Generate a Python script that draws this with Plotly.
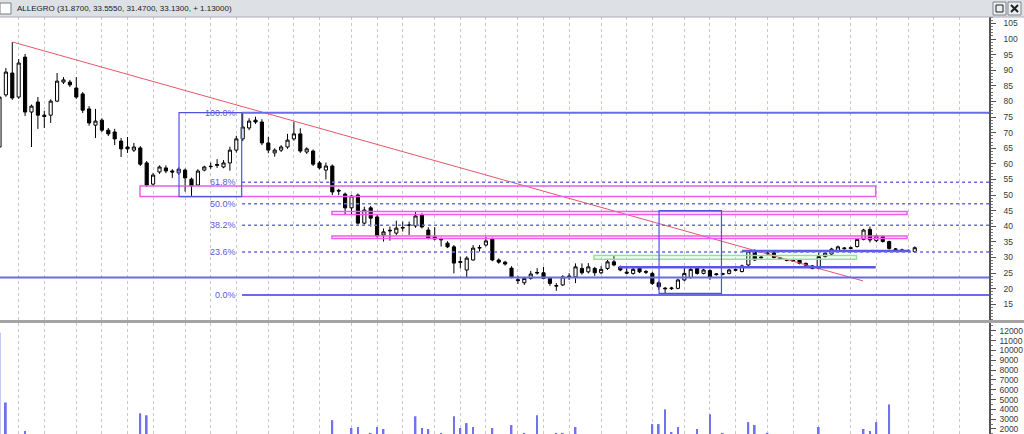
import plotly.graph_objects as go

# daily candles, numbered from the left edge of the window
opens = [65.4, 82.1, 89.1, 81.4, 94.2, 76.6, 79.8, 75.6, 75.6, 80.1, 86.2, 86.2,
         84.3, 82.4, 77.6, 72.4, 74.0, 70.8, 70.2, 67.3, 65.4, 64.4, 65.1, 60.3,
         53.5, 57.4, 58.7, 57.7, 57.1, 58.0, 55.1, 53.2, 58.0, 59.1, 59.5, 59.0,
         60.3, 64.4, 68.0, 71.5, 74.0, 73.4, 66.7, 63.5, 64.4, 65.4, 68.0, 69.6,
         63.8, 64.1, 60.3, 58.0, 59.3, 51.5, 50.3, 45.9, 50.0, 41.0, 45.9, 43.0,
         37.2, 38.5, 37.8, 39.4, 40.3, 40.1, 43.6, 38.8, 36.6, 35.9, 34.6, 33.4,
         28.4, 26.0, 29.2, 33.0, 34.0, 35.9, 29.2, 28.5, 26.6, 22.9, 21.9, 23.3,
         25.0, 25.1, 23.3, 20.8, 21.2, 23.8, 23.8, 26.5, 25.4, 26.5, 25.1, 26.5,
         28.6, 27.0, 25.3, 24.9, 26.5, 25.5, 24.9, 21.9, 20.2, 20.0, 20.1, 22.8,
         23.6, 26.5, 24.9, 25.8, 24.5, 24.6, 24.9, 25.9, 25.5, 27.6, 31.9, 29.9,
         31.2, 31.5, 29.8, 29.3, 29.1, 29.2, 28.1, 27.3, 26.5, 30.3, 31.1, 32.2,
         32.8, 32.9, 33.5, 35.8, 39.0, 35.4, 36.7, 35.1, 32.5, 32.4, 32.2, 31.87]
highs = [82.1, 90.7, 99.0, 93.6, 95.2, 79.0, 81.4, 77.0, 80.7, 89.1, 87.8, 86.9,
         87.8, 83.0, 78.5, 77.6, 74.6, 71.5, 71.2, 68.3, 68.6, 66.7, 65.7, 60.9,
         57.1, 59.5, 59.5, 58.3, 58.9, 58.5, 55.6, 58.3, 59.4, 60.4, 61.5, 61.2,
         65.5, 69.0, 76.4, 74.6, 75.1, 74.3, 68.7, 65.0, 66.0, 69.6, 73.5, 71.4,
         65.3, 64.6, 60.9, 60.4, 59.8, 52.0, 50.8, 50.1, 50.5, 46.3, 46.5, 43.6,
         39.3, 39.9, 41.8, 41.5, 41.5, 44.7, 44.2, 39.7, 39.7, 36.4, 35.2, 34.0,
         30.3, 30.4, 34.0, 34.0, 36.7, 36.4, 29.7, 28.9, 27.2, 24.1, 23.8, 25.7,
         26.6, 27.0, 23.8, 21.8, 24.3, 25.0, 28.1, 28.1, 28.2, 27.0, 27.3, 29.5,
         30.6, 27.4, 26.6, 26.7, 27.0, 26.0, 25.4, 22.4, 20.5, 20.6, 23.2, 26.6,
         26.6, 27.0, 26.4, 26.2, 25.0, 25.1, 26.4, 26.5, 27.7, 32.3, 32.6, 30.6,
         31.9, 31.9, 30.1, 29.6, 29.4, 29.5, 28.4, 27.6, 31.5, 31.8, 33.1, 33.8,
         33.3, 33.5, 36.2, 39.2, 39.9, 37.3, 37.0, 35.4, 33.0, 32.8, 32.6, 33.555]
lows = [60.6, 81.5, 80.5, 80.8, 75.3, 65.4, 71.2, 71.5, 73.1, 79.8, 85.6, 84.6,
        80.8, 76.3, 72.2, 68.3, 70.2, 68.9, 66.0, 62.2, 63.5, 63.8, 59.3, 52.6,
        52.9, 56.8, 57.0, 55.5, 56.5, 51.1, 49.5, 52.9, 57.6, 58.4, 58.7, 58.6,
        57.8, 63.6, 67.3, 70.8, 72.8, 66.0, 63.4, 62.3, 63.8, 64.8, 67.4, 63.5,
        63.2, 59.3, 58.2, 55.0, 50.0, 50.0, 43.6, 43.6, 40.5, 40.5, 39.9, 36.3,
        35.1, 35.4, 37.2, 38.3, 37.2, 39.5, 39.3, 35.8, 35.5, 33.5, 33.0, 24.9,
        26.5, 23.6, 29.0, 31.9, 33.5, 28.8, 28.0, 27.4, 23.3, 21.5, 21.2, 22.9,
        24.5, 23.0, 20.9, 19.3, 20.9, 22.8, 21.8, 24.5, 24.9, 24.1, 24.6, 26.0,
        27.2, 25.6, 24.6, 24.5, 25.0, 24.7, 21.2, 19.6, 18.1, 19.6, 19.8, 22.4,
        23.2, 24.5, 24.6, 22.8, 24.2, 24.3, 24.6, 25.6, 25.2, 27.3, 28.9, 29.6,
        30.8, 29.7, 29.2, 28.8, 28.6, 27.8, 27.2, 26.2, 26.2, 30.0, 30.8, 31.9,
        32.5, 32.6, 33.2, 35.5, 34.8, 34.9, 34.8, 32.5, 32.2, 32.0, 31.7, 31.47]
closes = [81.4, 89.4, 81.1, 92.3, 76.6, 78.5, 75.6, 75.2, 80.1, 86.5, 86.9, 85.3,
          81.4, 77.2, 73.1, 73.7, 70.8, 69.6, 68.0, 64.8, 64.8, 65.4, 59.9, 53.2,
          56.4, 59.0, 57.7, 57.4, 58.3, 55.5, 52.9, 57.7, 59.0, 59.2, 59.8, 60.3,
          64.4, 68.0, 71.8, 73.7, 73.4, 66.7, 64.4, 64.4, 65.4, 67.6, 69.6, 64.1,
          64.8, 59.9, 58.7, 59.3, 51.0, 51.3, 45.9, 49.7, 41.0, 45.2, 42.6, 36.9,
          38.2, 38.7, 39.4, 39.6, 40.4, 43.3, 39.8, 36.2, 35.9, 35.7, 33.4, 28.2,
          28.7, 29.8, 33.0, 33.2, 35.3, 29.2, 28.5, 27.9, 23.7, 22.6, 23.3, 24.7,
          25.2, 23.3, 21.7, 21.0, 23.8, 24.0, 27.0, 25.1, 27.0, 25.1, 26.2, 28.6,
          27.6, 26.0, 25.0, 26.2, 25.4, 25.3, 21.7, 20.6, 20.0, 20.2, 22.8, 24.9,
          26.2, 24.9, 26.0, 23.8, 24.7, 24.8, 26.0, 26.1, 27.3, 31.9, 29.2, 30.1,
          31.4, 30.0, 29.6, 29.1, 28.9, 28.1, 27.5, 26.5, 30.3, 31.4, 32.7, 33.4,
          33.0, 33.1, 35.8, 38.8, 35.6, 36.9, 35.1, 32.9, 32.7, 32.3, 32.0, 33.13]
volumes = [11800, 4700, 1200, 900, 1800, 1100, 800, 1000, 1300, 900, 700, 1000,
           1200, 800, 1100, 900, 1000, 700, 1300, 1200, 900, 1100, 3600, 3400,
           1300, 900, 800, 1000, 1200, 1100, 900, 1300, 700, 800, 1000, 900,
           1200, 1300, 1400, 1000, 800, 1300, 1100, 900, 800, 1000, 1200, 1300,
           900, 1200, 1100, 1000, 2900, 1300, 1200, 2100, 2200, 1400, 1600, 2200,
           2000, 1300, 1100, 1200, 1000, 3300, 2100, 2000, 1300, 1600, 1400, 3300,
           2100, 2600, 2200, 1300, 1200, 2100, 1100, 1300, 2400, 1200, 1600, 1300,
           3400, 1200, 1100, 1600, 1600, 1300, 2200, 1100, 1000, 1200, 900, 1300,
           1100, 1000, 900, 1200, 1000, 1300, 2500, 2500, 4000, 1700, 2200, 1300,
           1200, 2000, 1100, 3500, 1000, 1600, 900, 1100, 1300, 2700, 2400, 1200,
           1600, 1100, 900, 1000, 1200, 800, 1000, 1100, 2200, 1300, 1100, 1200,
           900, 1000, 1300, 2000, 1800, 2700, 1400, 4500, 1200, 1000, 900, 1100]
bars = list(range(1, len(closes) + 1))

# week separators (bar numbers)
week_marks = [4, 8, 13, 17, 21, 25, 30, 34, 38, 43, 47, 51, 56, 60, 64, 69, 73, 77,
              82, 86, 90, 95, 99, 103, 108, 112, 116, 121, 125, 129, 134, 138, 143, 147, 151]
price_ticks = [15, 20, 25, 30, 35, 40, 45, 50, 55, 60, 65, 70, 75, 80, 85, 90, 95, 100, 105]
volume_ticks = [2000, 3000, 4000, 5000, 6000, 7000, 8000, 9000, 10000, 11000, 12000]

# drawings: (bar from, bar to, price low, price high)
trend_bars = [3.1, 135.9]
trend_prices = [99.0, 22.5]
blue_boxes = [(29.05, 38.84, 49.5, 76.4), (104.05, 113.8, 18.5, 45.0)]
pink_zones = [(22.95, 137.9, 49.5, 52.9), (52.95, 142.8, 43.8, 44.7), (52.95, 142.8, 36.1, 36.9)]
green_zones = [(93.9, 134.9, 29.4, 30.6)]
support_lines = [(97.8, 137.9, 26.9), (117.0, 143.3, 32.1)]
full_line = 23.6
fib_start, fib_high, fib_low = 38.9, 76.4, 18.0
fib_ratios = [0.0, 23.6, 38.2, 50.0, 61.8, 100.0]
title_text = "ALLEGRO (31.8700, 33.5550, 31.4700, 33.1300, + 1.13000)"

W, H = 1024, 434
R, T = 35, 17
x_lo, x_hi = 1.08, 155.6
BLUE = "#6a6aec"
FONT = "Liberation Sans"


def px(v):  # pixel column -> paper x
    return v / (W - R)


def py(v):  # pixel row -> paper y
    return (H - v) / (H - T)


fig = go.Figure()

fig.add_trace(go.Candlestick(
    x=bars, open=opens, high=highs, low=lows, close=closes,
    increasing=dict(line=dict(color="black", width=1), fillcolor="white"),
    decreasing=dict(line=dict(color="black", width=1), fillcolor="black"),
    whiskerwidth=0, showlegend=False, hoverinfo="skip",
    xaxis="x", yaxis="y"))

fig.add_trace(go.Bar(x=bars, y=volumes, width=0.28, marker_color="#7272ec",
                     marker_line_width=0, showlegend=False, xaxis="x2", yaxis="y2"))

fig.add_trace(go.Scatter(x=trend_bars, y=trend_prices, mode="lines",
                         line=dict(color="#e4586a", width=1), showlegend=False,
                         xaxis="x", yaxis="y"))

shapes = []
for x0, x1, lo, hi in pink_zones:
    shapes.append(dict(type="rect", xref="x", yref="y", x0=x0, x1=x1, y0=lo, y1=hi,
                       line=dict(color="#ee5cee", width=1.5), fillcolor="rgba(0,0,0,0)"))
for x0, x1, lo, hi in green_zones:
    shapes.append(dict(type="rect", xref="x", yref="y", x0=x0, x1=x1, y0=lo, y1=hi,
                       line=dict(color="#86ea86", width=1.5), fillcolor="rgba(0,0,0,0)"))
for x0, x1, lo, hi in blue_boxes:
    shapes.append(dict(type="rect", xref="x", yref="y", x0=x0, x1=x1, y0=lo, y1=hi,
                       line=dict(color="#5252e0", width=1.2), fillcolor="rgba(0,0,0,0)"))
for x0, x1, lvl in support_lines:
    shapes.append(dict(type="line", xref="x", yref="y", x0=x0, x1=x1, y0=lvl, y1=lvl,
                       line=dict(color="#5858e4", width=2.5)))
shapes.append(dict(type="line", xref="x", yref="y", x0=x_lo, x1=x_hi, y0=full_line, y1=full_line,
                   line=dict(color=BLUE, width=2)))

annotations = []
for r in fib_ratios:
    lvl = fib_low + (fib_high - fib_low) * r / 100
    solid = r in (0.0, 100.0)
    shapes.append(dict(type="line", xref="x", yref="y", x0=fib_start, x1=x_hi, y0=lvl, y1=lvl,
                       line=dict(color=BLUE, width=2 if solid else 1.5,
                                 dash="solid" if solid else "dot")))
    annotations.append(dict(x=fib_start - 0.6, y=lvl, xref="x", yref="y", text=f"{r:.1f}%",
                            showarrow=False, xanchor="right", yanchor="middle",
                            font=dict(family=FONT, size=9, color="#5a5ae4")))

# window frame: title bar, pane divider, maximise / close buttons
shapes.append(dict(type="rect", xref="paper", yref="paper", x0=0, x1=px(W), y0=py(T), y1=py(0),
                   line=dict(width=0), fillcolor="#dde0e5", layer="below"))
shapes.append(dict(type="line", xref="paper", yref="paper", x0=0, x1=px(W), y0=py(T), y1=py(T),
                   line=dict(color="#a9adb3", width=1)))
shapes.append(dict(type="rect", xref="paper", yref="paper", x0=px(0), x1=px(11), y0=py(14), y1=py(3),
                   line=dict(color="#7b7f86", width=1), fillcolor="white"))
shapes.append(dict(type="line", xref="paper", yref="paper", x0=0, x1=px(W), y0=py(321.5), y1=py(321.5),
                   line=dict(color="#a4a4a4", width=3)))
for bx in (993, 1008):
    shapes.append(dict(type="rect", xref="paper", yref="paper", x0=px(bx), x1=px(bx + 13),
                       y0=py(15), y1=py(2), line=dict(color="#80848a", width=1), fillcolor="#eceef1"))
shapes.append(dict(type="rect", xref="paper", yref="paper", x0=px(996), x1=px(1003),
                   y0=py(12), y1=py(5), line=dict(color="#202020", width=1), fillcolor="rgba(0,0,0,0)"))
for a, b in ((5, 12), (12, 5)):
    shapes.append(dict(type="line", xref="paper", yref="paper", x0=px(1011), x1=px(1018),
                       y0=py(a), y1=py(b), line=dict(color="#202020", width=2)))
annotations.append(dict(x=px(15), y=py(8.5), xref="paper", yref="paper", text=title_text,
                        showarrow=False, xanchor="left", yanchor="middle",
                        font=dict(family=FONT, size=8, color="#1a1a1a")))

grid = dict(tickmode="array", tickvals=week_marks, showticklabels=False, ticks="",
            showgrid=True, gridcolor="#c9c9c9", griddash="dot", gridwidth=1,
            zeroline=False, range=[x_lo, x_hi], rangeslider=dict(visible=False))

fig.update_layout(
    width=W, height=H,
    margin=dict(l=0, r=R, t=T, b=0),
    paper_bgcolor="white", plot_bgcolor="white",
    showlegend=False,
    xaxis=dict(anchor="y", domain=[0, 1], **grid),
    xaxis2=dict(anchor="y2", domain=[0, 1], matches="x", **grid),
    yaxis=dict(domain=[py(320), 1], side="right", range=[9.97, 107.05],
               tickmode="array", tickvals=price_ticks, ticks="outside", ticklen=5,
               tickcolor="#555555", minor=dict(tickmode="linear", tick0=0, dtick=1,
                                               ticks="outside", ticklen=2, tickcolor="#777777"),
               showline=True, linecolor="#555555", linewidth=1.5, showgrid=False,
               zeroline=False, ticklabelstandoff=6,
               tickfont=dict(family=FONT, size=8.5, color="#3a3a3a")),
    yaxis2=dict(domain=[0, py(323)], side="right", range=[1490, 12800],
                tickmode="array", tickvals=volume_ticks, ticktext=[str(v) for v in volume_ticks],
                ticks="outside", ticklen=5,
                tickcolor="#555555", minor=dict(tickmode="linear", tick0=0, dtick=500,
                                                ticks="outside", ticklen=2, tickcolor="#777777"),
                showline=True, linecolor="#555555", linewidth=1.5, showgrid=False,
                zeroline=False, ticklabelstandoff=2,
                tickfont=dict(family=FONT, size=8.5, color="#3a3a3a")),
    shapes=shapes,
    annotations=annotations,
)

# the page's default body margin would push the fixed-size figure off the window
fig.write_html("out.html", config=dict(displayModeBar=False),
               post_script="document.body.style.margin = '0';")
